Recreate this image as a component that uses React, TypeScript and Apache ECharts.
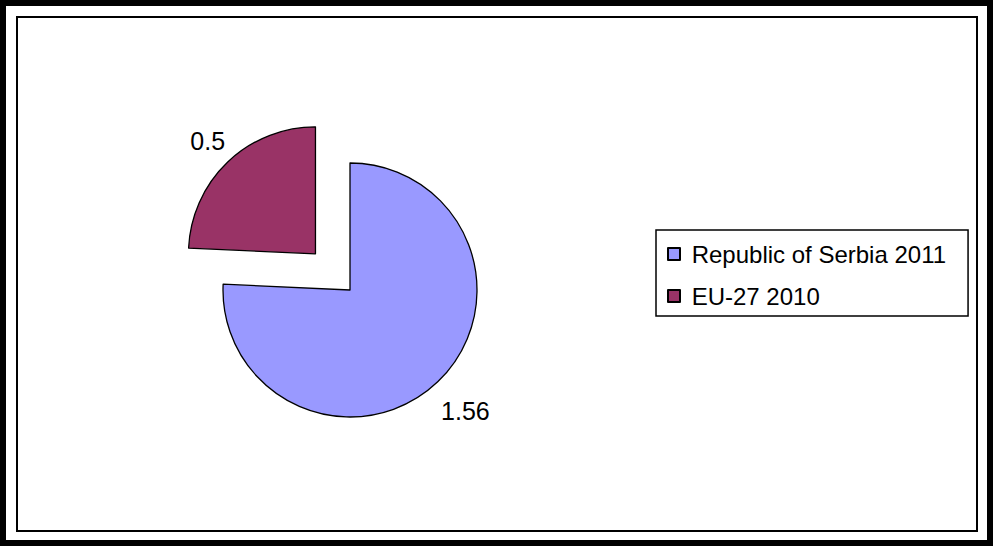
import React, { useEffect, useRef } from 'react';
import * as echarts from 'echarts';

const categories: string[] = ['Republic of Serbia 2011', 'EU-27 2010'];
const values: number[] = [1.56, 0.5];
const colors: string[] = ['#9999FF', '#993366'];
const exploded: boolean[] = [false, true];

export default function App() {
  const ref = useRef<HTMLDivElement>(null);
  useEffect(() => {
    const chart = echarts.init(ref.current!, null, { renderer: 'svg' });
    const labelLens = [40, 29];
    chart.setOption({
      animation: false,
      backgroundColor: '#ffffff',
      textStyle: { fontFamily: 'Liberation Sans, Arial, sans-serif' },
      graphic: [
        {
          type: 'rect',
          silent: true,
          shape: { x: 3, y: 3, width: 987, height: 540 },
          style: { fill: 'none', stroke: '#000', lineWidth: 6 },
        },
        {
          type: 'rect',
          silent: true,
          shape: { x: 17, y: 17, width: 960, height: 514 },
          style: { fill: 'none', stroke: '#000', lineWidth: 2 },
        },
      ],
      legend: {
        orient: 'vertical',
        left: 656,
        top: 230,
        selectedMode: false,
        backgroundColor: '#fff',
        borderColor: '#000',
        borderWidth: 1.5,
        padding: [12, 22, 8, 11],
        itemGap: 18,
        itemWidth: 12,
        itemHeight: 12,
        icon: 'rect',
        formatter: (name: string) => ' ' + name,
        textStyle: { fontSize: 24, lineHeight: 24, color: '#000', fontFamily: 'Liberation Sans, Arial, sans-serif' },
        data: categories,
      },
      series: [
        {
          type: 'pie',
          center: [350, 290],
          radius: 127,
          startAngle: 90,
          clockwise: true,
          selectedMode: 'multiple',
          selectedOffset: 50,
          avoidLabelOverlap: false,
          emphasis: { disabled: true },
          itemStyle: { borderColor: '#000', borderWidth: 1.3 },
          label: {
            show: true,
            position: 'outside',
            formatter: '{c}',
            fontSize: 25,
            color: '#000',
            distanceToLabelLine: 0,
            fontFamily: 'Liberation Sans, Arial, sans-serif',
          },
          labelLine: { show: false, length: 30, length2: 0 },
          labelLayout: { align: 'center' },
          data: categories.map((name, i) => ({
            name,
            value: values[i],
            selected: exploded[i],
            itemStyle: { color: colors[i] },
            labelLine: { show: false, length: labelLens[i], length2: 0 },
          })),
        },
      ],
    });
    return () => chart.dispose();
  }, []);
  return (
    <div
      ref={ref}
      style={{ position: 'fixed', left: 0, top: 0, width: 993, height: 546 }}
    />
  );
}
